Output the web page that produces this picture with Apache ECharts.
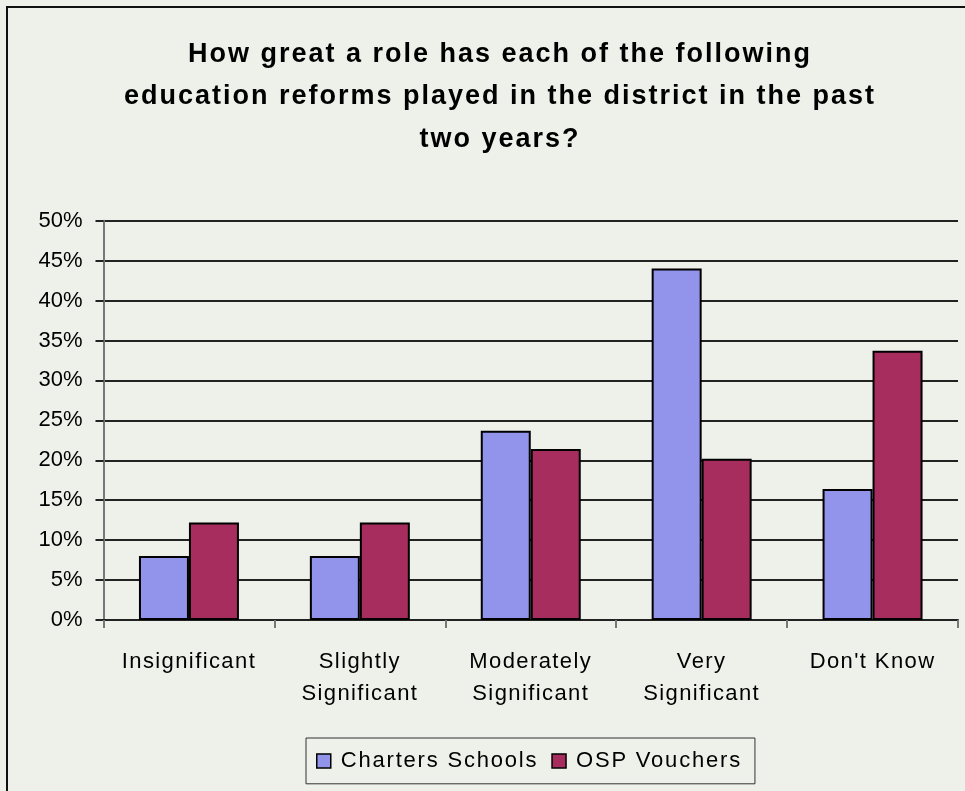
<!DOCTYPE html>
<html><head><meta charset="utf-8">
<script src="https://cdn.jsdelivr.net/npm/echarts@6/dist/echarts.min.js"></script>
<style>html,body{margin:0;padding:0;background:#EEF0EA;}#c{width:965px;height:791px;}</style>
</head><body><div id="c"></div>
<script>
const categories = ['Insignificant', 'Slightly\nSignificant', 'Moderately\nSignificant', 'Very\nSignificant', "Don't Know"];
const charterSchools = [8.0, 8.0, 23.7, 44.0, 16.4];
const ospVouchers = [12.2, 12.2, 21.4, 20.2, 33.7];
const seriesNames = ['Charters Schools', 'OSP Vouchers'];
const titleText = 'How great a role has each of the following\neducation reforms played in the district in the past\ntwo years?';

// emulate the wider letter spacing of the original rendering for some texts
(function () {
  try {
    const proto = CanvasRenderingContext2D.prototype;
    const desc = Object.getOwnPropertyDescriptor(proto, 'font');
    if (!desc || !('letterSpacing' in proto)) return;
    Object.defineProperty(proto, 'font', {
      configurable: true,
      get() { return desc.get.call(this); },
      set(v) {
        desc.set.call(this, v);
        let ls = '0px';
        if (v.indexOf('TtlSp') >= 0) ls = '2px';
        else if (v.indexOf('LgdSp') >= 0) ls = '1.8px';
        else if (v.indexOf('LblSp') >= 0) ls = '1.4px';
        this.letterSpacing = ls;
      }
    });
  } catch (e) {}
})();

const base = "'Liberation Sans', Arial, sans-serif";
const chart = echarts.init(document.getElementById('c'), null, {renderer: 'canvas'});
chart.setOption({
  backgroundColor: '#EEF0EA',
  animation: false,
  graphic: [
    {type: 'rect', shape: {x: 7, y: 7, width: 1000, height: 1000}, style: {fill: 'none', stroke: '#111', lineWidth: 2}, z: 100}
  ],
  title: {
    text: titleText,
    left: 495, top: 28, textAlign: 'center',
    textStyle: {fontFamily: "TtlSp, " + base, fontWeight: 'bold', fontSize: 27, lineHeight: 42.5, color: '#000'}
  },
  legend: {
    data: seriesNames,
    left: 306, top: 738,
    padding: [11, 13, 11, 10],
    itemGap: 13, itemWidth: 14, itemHeight: 14,
    borderColor: '#333', borderWidth: 1,
    icon: 'rect',
    itemStyle: {borderColor: '#000', borderWidth: 1.5},
    textStyle: {fontFamily: "LgdSp, " + base, fontSize: 22, color: '#000', padding: [0, 0, 0, 5]}
  },
  grid: {left: 103.5, right: 7, top: 220.7, bottom: 171, containLabel: false},
  xAxis: {
    type: 'category', data: categories,
    axisLine: {show: true, lineStyle: {color: '#222', width: 2}},
    axisTick: {show: true, length: 8, lineStyle: {color: '#777', width: 2}},
    axisLabel: {fontFamily: "LblSp, " + base, fontSize: 22, color: '#000', margin: 26, lineHeight: 32, interval: 0}
  },
  yAxis: {
    type: 'value', min: 0, max: 50, interval: 5,
    axisLine: {show: true, lineStyle: {color: '#777', width: 2}},
    axisTick: {show: true, length: 8, lineStyle: {color: '#222', width: 2}},
    splitLine: {lineStyle: {color: '#222', width: 2}},
    axisLabel: {fontFamily: base, fontSize: 22, color: '#000', margin: 21, formatter: '{value}%'}
  },
  series: [
    {name: seriesNames[0], type: 'bar', data: charterSchools, barGap: '0%', barCategoryGap: '41.5%',
     itemStyle: {color: '#9293EA', borderColor: '#000', borderWidth: 2}},
    {name: seriesNames[1], type: 'bar', data: ospVouchers,
     itemStyle: {color: '#A72D5E', borderColor: '#000', borderWidth: 2}}
  ]
});
</script></body></html>
